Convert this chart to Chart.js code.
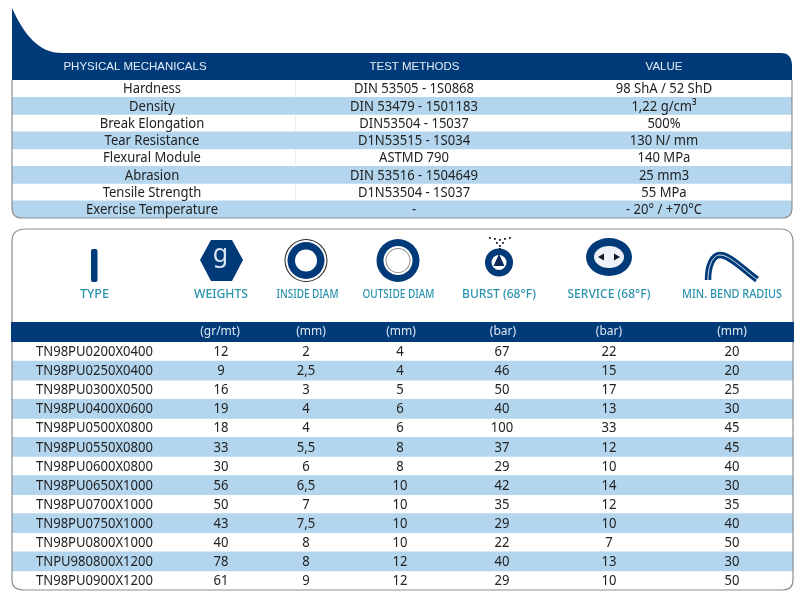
<!DOCTYPE html>
<html><head><meta charset="utf-8">
<script src="https://cdn.jsdelivr.net/npm/chart.js@4"></script>
<style>html,body{margin:0;padding:0;background:#fff}canvas{position:absolute;left:0;display:block}#a{top:0}#b{top:225px}</style>
</head><body><canvas id="a" width="800" height="225"></canvas><canvas id="b" width="800" height="375"></canvas>
<script>
// ---- data: table 1
const mechHeaders = ["PHYSICAL MECHANICALS","TEST METHODS","VALUE"];
const mechProperties = ["Hardness","Density","Break Elongation","Tear Resistance","Flexural Module","Abrasion","Tensile Strength","Exercise Temperature"];
const mechMethods = ["DIN 53505 - 1S0868","DIN 53479 - 1501183","DIN53504 - 15037","D1N53515 - 1S034","ASTMD 790","DIN 53516 - 1504649","D1N53504 - 1S037","-"];
const mechValues = ["98 ShA / 52 ShD","1,22 g/cm³","500%","130 N/ mm","140 MPa","25 mm3","55 MPa","- 20° / +70°C"];
// ---- data: table 2
const iconLabels = ["TYPE","WEIGHTS","INSIDE DIAM","OUTSIDE DIAM","BURST (68°F)","SERVICE (68°F)","MIN. BEND RADIUS"];
const units = ["(gr/mt)","(mm)","(mm)","(bar)","(bar)","(mm)"];
const types = ["TN98PU0200X0400","TN98PU0250X0400","TN98PU0300X0500","TN98PU0400X0600","TN98PU0500X0800","TN98PU0550X0800","TN98PU0600X0800","TN98PU0650X1000","TN98PU0700X1000","TN98PU0750X1000","TN98PU0800X1000","TNPU980800X1200","TN98PU0900X1200"];
const weights = [12,9,16,19,18,33,30,56,50,43,40,78,61];
const insideDiam = ["2","2,5","3","4","4","5,5","6","6,5","7","7,5","8","8","9"];
const outsideDiam = [4,4,5,6,6,8,8,10,10,10,10,12,12];
const burst = [67,46,50,40,100,37,29,42,35,29,22,40,29];
const service = [22,15,17,13,33,12,10,14,12,10,7,13,10];
const bendRadius = [20,20,25,30,45,45,40,30,35,40,50,30,50];

// ---- style / layout
const NAVY="#003a78", STRIPE="#b3d6ee", TEAL="#2b93ad", INK="#222", EDGE="#8a8f94";
const BODY='"Noto Sans", sans-serif', HEAD='"Liberation Sans", Arial, sans-serif';
const mechCols=[152,414,664], mechHeadCols=[135,414.5,664];
const specCols=[221,306,400,502,609,732], unitCols=[220,311,401,503,609,732], iconCols=[94.5,221,307.5,398.5,499,609,732];
const typeLeft=36;
const CONDENSE=0.9;

Chart.defaults.animation=false;
function rr(c,x,y,w,h,r){c.beginPath();c.roundRect(x,y,w,h,r);}
function text(c,s,x,y,font,color,align,maxW){c.font=font;c.fillStyle=color;c.textAlign=align||"center";c.textBaseline="middle";
  if(maxW)c.fillText(s,x,y,maxW);else c.fillText(s,x,y);}
function cell(c,s,x,y,align){c.font="14.5px "+BODY;const w=c.measureText(s).width;text(c,s,x,y,"14.5px "+BODY,INK,align,w*CONDENSE);}
function stripes(labels,x0,x1){return labels.map((_,i)=>i%2?[x0,x1]:null);}
function baseOptions(padding,clip){return {responsive:false,indexAxis:"y",devicePixelRatio:1,layout:{padding},
  plugins:{legend:{display:false},tooltip:{enabled:false},title:{display:false},clipRows:clip},
  scales:{x:{type:"linear",min:0,max:800,display:false},y:{type:"category",display:false,offset:true}}};}
function stripeDataset(labels,x0,x1){return {data:stripes(labels,x0,x1),backgroundColor:STRIPE,categoryPercentage:1,barPercentage:1,borderWidth:0};}

const clipRows={id:"clipRows",
  beforeDatasetsDraw(ch,a,o){const c=ch.ctx,A=ch.chartArea,x=ch.scales.x;c.save();
    rr(c,x.getPixelForValue(o.x0),A.top-20,x.getPixelForValue(o.x1)-x.getPixelForValue(o.x0),A.bottom-A.top+20,o.r);c.clip();},
  afterDatasetsDraw(ch){ch.ctx.restore();}};

// ---- table 1
const tableA={id:"tableA",afterDatasetsDraw(ch){
  const c=ch.ctx,X=ch.scales.x,Y=ch.scales.y,A=ch.chartArea,px=v=>X.getPixelForValue(v);
  c.fillStyle=NAVY;c.beginPath();c.moveTo(px(12),A.top);c.lineTo(px(12),8);
  c.bezierCurveTo(px(24),34,px(38),53,px(62),53);
  c.lineTo(px(781),53);c.quadraticCurveTo(px(792),53,px(792),66);c.lineTo(px(792),A.top);c.closePath();c.fill();
  c.fillStyle="#ececec";mechProperties.forEach((_,i)=>{if(i%2==0){const y=Y.getPixelForValue(i);c.fillRect(px(295),y-8,1,16);}});
  c.strokeStyle=EDGE;c.lineWidth=1.2;c.beginPath();c.moveTo(px(12),A.top);c.lineTo(px(12),A.bottom-10);
  c.quadraticCurveTo(px(12),A.bottom,px(22),A.bottom);c.lineTo(px(782),A.bottom);
  c.quadraticCurveTo(px(792),A.bottom,px(792),A.bottom-10);c.lineTo(px(792),A.top);c.stroke();
  mechHeaders.forEach((h,i)=>text(c,h,px(mechHeadCols[i]),67,"11.5px "+HEAD,"#e4eef8"));
  [mechProperties,mechMethods,mechValues].forEach((col,k)=>col.forEach((s,i)=>cell(c,s,px(mechCols[k]),Y.getPixelForValue(i)+0.5)));
}};
new Chart(document.getElementById("a"),{type:"bar",
  data:{labels:mechProperties,datasets:[stripeDataset(mechProperties,12,792)]},
  options:baseOptions({top:80,bottom:7,left:0,right:0},{x0:12,x1:792,r:[0,0,10,10]}),
  plugins:[clipRows,tableA]});

// ---- table 2
const tableB={id:"tableB",afterDatasetsDraw(ch){
  const c=ch.ctx,X=ch.scales.x,Y=ch.scales.y,A=ch.chartArea,px=v=>X.getPixelForValue(v);
  c.fillStyle=NAVY;c.fillRect(px(11),A.top-20,px(794)-px(11),20);
  c.strokeStyle=EDGE;c.lineWidth=1.2;c.beginPath();c.moveTo(px(12),A.top-20);c.lineTo(px(12),16);c.quadraticCurveTo(px(12),4,px(26),4);
  c.lineTo(px(780),4);c.quadraticCurveTo(px(793),4,px(793),17);c.lineTo(px(793),A.top-20);
  c.moveTo(px(12),A.top);c.lineTo(px(12),A.bottom-10);c.quadraticCurveTo(px(12),A.bottom,px(24),A.bottom);
  c.lineTo(px(782),A.bottom);c.quadraticCurveTo(px(793),A.bottom,px(793),A.bottom-10);c.lineTo(px(793),A.top);c.stroke();
  drawIcons(c,px);
  iconLabels.forEach((s,i)=>{const w=[29,54,62,72,74,83,100][i];
    text(c,s,px(iconCols[i]),69.5,"500 13px "+BODY,TEAL,"center",w);});
  units.forEach((u,i)=>text(c,u,px(unitCols[i]),106.5,"12px "+BODY,"#dfe9f4"));
  types.forEach((s,i)=>cell(c,s,px(typeLeft),Y.getPixelForValue(i)+0.5,"left"));
  [weights,insideDiam,outsideDiam,burst,service,bendRadius].forEach((col,k)=>col.forEach((v,i)=>
    cell(c,String(v),px(specCols[k]),Y.getPixelForValue(i)+0.5)));
}};
function disc(c,x,y,r,col){c.fillStyle=col;c.beginPath();c.arc(x,y,r,0,7);c.fill();}
function tri(c,p,col){c.fillStyle=col;c.beginPath();c.moveTo(p[0],p[1]);c.lineTo(p[2],p[3]);c.lineTo(p[4],p[5]);c.closePath();c.fill();}
function drawIcons(c,px){
  c.fillStyle=NAVY;rr(c,px(91),24,6.5,33,2);c.fill();
  c.beginPath();c.moveTo(px(200),35);c.lineTo(px(211),15);c.lineTo(px(232),15);c.lineTo(px(243),35);c.lineTo(px(232),56);c.lineTo(px(211),56);c.closePath();c.fill();
  text(c,"g",px(220.5),30,"25px "+BODY,"#dce6f2");
  disc(c,px(306),35.5,21.5,"#222");disc(c,px(306),35.5,20.5,"#fff");disc(c,px(306),35.5,18.5,NAVY);disc(c,px(306),35.5,11,"#fff");
  disc(c,px(398),35.5,21.5,NAVY);disc(c,px(398),35.5,14.5,"#fff");disc(c,px(398),35.5,12.5,"#8d8d8d");disc(c,px(398),35.5,11.5,"#fff");
  disc(c,px(499),37.5,14,NAVY);disc(c,px(499),37.5,7.5,"#fff");
  tri(c,[px(499),29,px(493.5),41,px(504.5),41],"#0b2a5c");
  c.fillStyle="#1a1a2a";[[489,12],[494,13],[499,14],[504,13],[509,12],[496,17],[502,17],[499,20],[499,23]].forEach(p=>c.fillRect(px(p[0]),p[1],1.8,1.8));
  c.fillStyle=NAVY;c.beginPath();c.ellipse(px(609),32,23,19,0,0,7);c.fill();
  c.fillStyle="#eef2f8";c.beginPath();c.ellipse(px(609),32,15,11,0,0,7);c.fill();
  tri(c,[px(598),32,px(604),28.5,px(604),35.5],"#10182a");tri(c,[px(620),32,px(614),28.5,px(614),35.5],"#10182a");
  const bend=()=>{c.beginPath();c.moveTo(px(708),55);c.bezierCurveTo(px(708),40,px(713),30,px(720),30);c.bezierCurveTo(px(730),30,px(745),46,px(757),54.5);c.stroke();};
  c.lineCap="butt";c.strokeStyle=NAVY;c.lineWidth=6.5;bend();c.strokeStyle="#dfe8f2";c.lineWidth=1;bend();
}
new Chart(document.getElementById("b"),{type:"bar",
  data:{labels:types,datasets:[stripeDataset(types,12,793)]},
  options:baseOptions({top:117,bottom:10,left:0,right:0},{x0:12,x1:793,r:[0,0,10,10]}),
  plugins:[clipRows,tableB]});
</script></body></html>
